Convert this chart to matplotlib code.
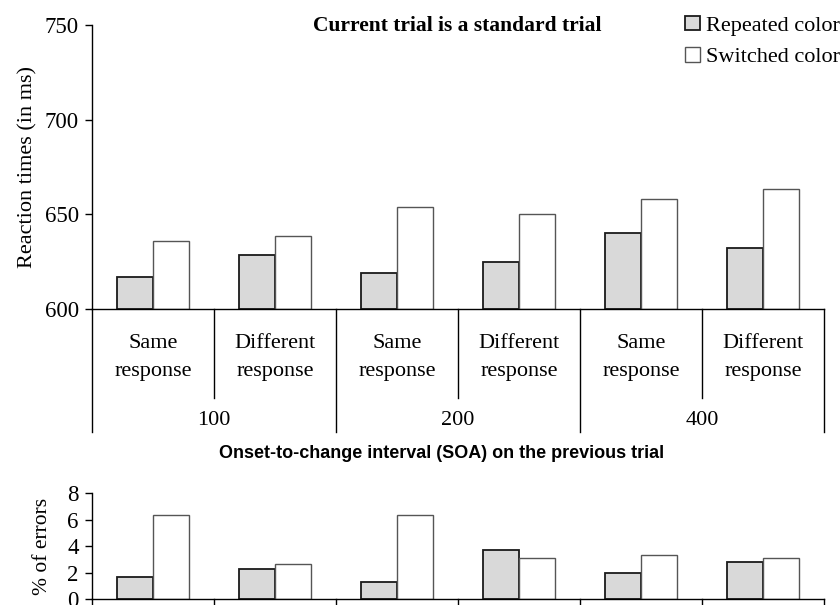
import matplotlib
matplotlib.use('Agg')
import matplotlib.pyplot as plt
from matplotlib.patches import Patch
import numpy as np

plt.rcParams['font.family'] = ['Liberation Serif', 'DejaVu Serif']

# data
conditions = ['Same\nresponse', 'Different\nresponse'] * 3
soa_labels = ['100', '200', '400']
rt_repeated = [617, 628.7, 619, 625, 640, 632]
rt_switched = [636, 638.6, 653.7, 650, 658, 663.6]
err_repeated = [1.66, 2.26, 1.25, 3.70, 2.0, 2.8]
err_switched = [6.36, 2.67, 6.36, 3.07, 3.3, 3.07]
rt_ticks = [600, 650, 700, 750]
err_ticks = [0, 2, 4, 6, 8]

COL_REP = '#d9d9d9'
EDGE_REP = '#1a1a1a'
EDGE_SW = '#555555'

fig = plt.figure(figsize=(8.4, 6.05), dpi=100)
ax = fig.add_axes([0.1095, 0.4893, 0.8714, 0.4694])
ax2 = fig.add_axes([0.1095, 0.0099, 0.8714, 0.1752])

x = np.arange(len(conditions))
w = 0.295


def style_axes(a):
    for s in ('top', 'right'):
        a.spines[s].set_visible(False)
    a.spines['left'].set_linewidth(1.0)
    a.spines['bottom'].set_linewidth(1.0)
    a.tick_params(axis='y', direction='out', length=5, width=1.0,
                  labelsize=16.5, pad=4.5)
    a.set_xticks([])
    a.set_xlim(-0.5, 5.5)


# ---- top panel: reaction times ----
ax.bar(x - w / 2, [v - 600 for v in rt_repeated], w, bottom=600,
       color=COL_REP, edgecolor=EDGE_REP, linewidth=1.3)
ax.bar(x + w / 2, [v - 600 for v in rt_switched], w, bottom=600,
       color='white', edgecolor=EDGE_SW, linewidth=1.0)
ax.set_ylim(600, 750)
ax.set_yticks(rt_ticks)
style_axes(ax)
ax.set_ylabel('Reaction times (in ms)', fontsize=16, labelpad=5)

tr = ax.get_xaxis_transform()
for xb in [-0.5, 1.5, 3.5, 5.5]:
    ax.plot([xb, xb], [0, -0.433], transform=tr, color='black',
            lw=1.0, clip_on=False)
for xb in [0.5, 2.5, 4.5]:
    ax.plot([xb, xb], [0, -0.313], transform=tr, color='black',
            lw=1.0, clip_on=False)
for i, lab in enumerate(conditions):
    ax.text(i, -0.171, lab, transform=tr, ha='center', va='center',
            fontsize=16, linespacing=1.6)
for g, lab in enumerate(soa_labels):
    ax.text(2 * g + 0.5, -0.394, lab, transform=tr, ha='center',
            va='center', fontsize=16)

fig.text(0.544, 0.957, 'Current trial is a standard trial', ha='center',
         va='center', fontsize=15.5, fontweight='bold')

handles = [Patch(facecolor=COL_REP, edgecolor=EDGE_REP, lw=1.3),
           Patch(facecolor='white', edgecolor=EDGE_SW, lw=1.0)]
fig.legend(handles, ['Repeated color', 'Switched color'],
           loc='upper left', bbox_to_anchor=(0.805, 0.989), frameon=False,
           fontsize=16, handlelength=0.65, handleheight=0.65,
           handletextpad=0.3, labelspacing=0.5, borderaxespad=0)

fig.text(0.526, 0.250, 'Onset-to-change interval (SOA) on the previous trial',
         ha='center', va='center', fontsize=13, fontweight='bold',
         family=['Liberation Sans', 'DejaVu Sans'])

# ---- bottom panel: error rates ----
ax2.bar(x - w / 2, err_repeated, w, color=COL_REP, edgecolor=EDGE_REP,
        linewidth=1.3)
ax2.bar(x + w / 2, err_switched, w, color='white', edgecolor=EDGE_SW,
        linewidth=1.0)
ax2.set_ylim(0, 8)
ax2.set_yticks(err_ticks)
style_axes(ax2)
ax2.set_ylabel('% of errors', fontsize=15.5, labelpad=11)
tr2 = ax2.get_xaxis_transform()
for xb in np.arange(-0.5, 6.0, 1.0):
    ax2.plot([xb, xb], [0, -0.3], transform=tr2, color='black', lw=1.0,
             clip_on=False)

fig.savefig('out.png', dpi=100)
